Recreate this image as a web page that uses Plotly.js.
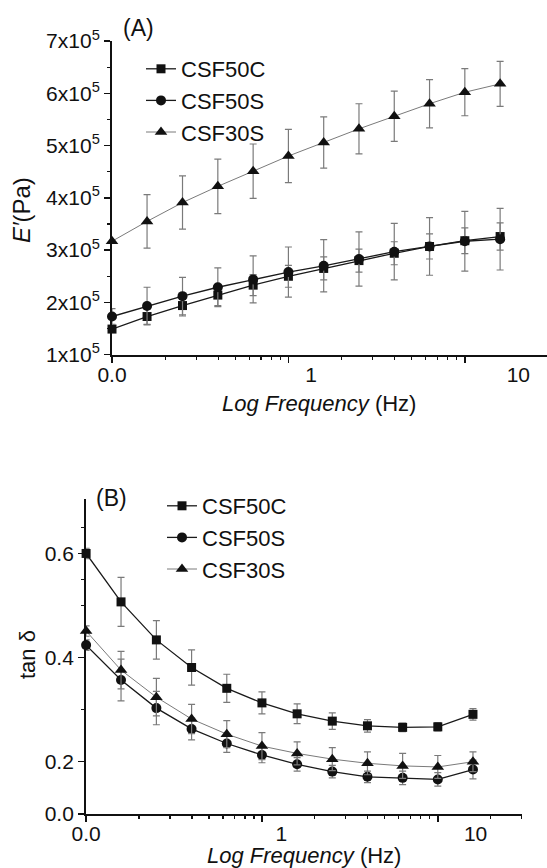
<!DOCTYPE html>
<html><head><meta charset="utf-8">
<script src="https://cdn.plot.ly/plotly-3.0.1.min.js"></script>
<style>html,body{margin:0;padding:0;overflow:hidden;background:#fff}</style>
</head><body><div id="chart" style="width:549px;height:868px"></div>
<script>
// Frequencies (Hz), shared by both panels
const freq = [0.1, 0.158, 0.251, 0.398, 0.631, 1, 1.585, 2.512, 3.981, 6.31, 10, 15.85];
const names = ['CSF50C', 'CSF50S', 'CSF30S'];

// Panel A: storage modulus E' (Pa)
const eCSF50C = [1.49e5, 1.73e5, 1.94e5, 2.14e5, 2.33e5, 2.50e5, 2.65e5, 2.80e5, 2.94e5, 3.07e5, 3.18e5, 3.26e5];
const eCSF50C_err = [0.05e5, 0.15e5, 0.2e5, 0.2e5, 0.2e5, 0.21e5, 0.22e5, 0.22e5, 0.22e5, 0.24e5, 0.245e5, 0.26e5];
const eCSF50S = [1.73e5, 1.93e5, 2.12e5, 2.29e5, 2.44e5, 2.58e5, 2.70e5, 2.83e5, 2.97e5, 3.07e5, 3.17e5, 3.21e5];
const eCSF50S_err = [0.15e5, 0.36e5, 0.36e5, 0.37e5, 0.45e5, 0.48e5, 0.50e5, 0.52e5, 0.54e5, 0.55e5, 0.57e5, 0.59e5];
const eCSF30S = [3.17e5, 3.55e5, 3.91e5, 4.22e5, 4.51e5, 4.80e5, 5.06e5, 5.32e5, 5.56e5, 5.80e5, 6.02e5, 6.18e5];
const eCSF30S_err = [0.02e5, 0.51e5, 0.51e5, 0.52e5, 0.52e5, 0.51e5, 0.49e5, 0.48e5, 0.48e5, 0.46e5, 0.45e5, 0.43e5];

// Panel B: tan delta
const tCSF50C = [0.600, 0.507, 0.434, 0.381, 0.341, 0.313, 0.292, 0.278, 0.269, 0.266, 0.267, 0.291];
const tCSF50C_err = [0.01, 0.047, 0.037, 0.034, 0.027, 0.021, 0.019, 0.016, 0.012, 0.008, 0.008, 0.011];
const tCSF50S = [0.424, 0.357, 0.303, 0.263, 0.235, 0.213, 0.195, 0.181, 0.171, 0.169, 0.166, 0.185];
const tCSF50S_err = [0.01, 0.04, 0.032, 0.021, 0.017, 0.015, 0.013, 0.012, 0.011, 0.013, 0.013, 0.018];
const tCSF30S = [0.451, 0.376, 0.324, 0.282, 0.253, 0.230, 0.216, 0.205, 0.197, 0.192, 0.190, 0.200];
const tCSF30S_err = [0.01, 0.036, 0.036, 0.028, 0.026, 0.026, 0.022, 0.022, 0.022, 0.024, 0.022, 0.019];

// Tick labels
const yTickValsA = [1e5, 2e5, 3e5, 4e5, 5e5, 6e5, 7e5];
const yTickTextA = ['1x10<sup>5</sup>', '2x10<sup>5</sup>', '3x10<sup>5</sup>', '4x10<sup>5</sup>', '5x10<sup>5</sup>', '6x10<sup>5</sup>', '7x10<sup>5</sup>'];
const yTickValsB = [0.1, 0.2, 0.4, 0.6];
const yTickTextB = ['0.0', '0.2', '0.4', '0.6'];
const xTickTextAll = ['0.0', '1', '10'];
const xLabelPosA = [0.1, 1.345, 20.1];
const xLabelPosB = [0.1, 1.29, 16.4];

const FONT = 'Liberation Sans, Arial, sans-serif';
const styles = [
  {symbol: 'square', size: 9, line: {color: '#1a1a1a', width: 1.3}},
  {symbol: 'circle', size: 10, line: {color: '#1a1a1a', width: 1.3}},
  {symbol: 'triangle-up', size: 11, line: {color: '#7a7a7a', width: 1}}
];
const errStyle = (arr) => ({type: 'data', array: arr, visible: true, color: '#7a7a7a', thickness: 1.2, width: 3.5});

function mk(y, err, i, xa, ya, leg) {
  return {
    x: freq, y: y, name: names[i], type: 'scatter', mode: 'lines+markers',
    xaxis: xa, yaxis: ya, legend: leg, cliponaxis: false,
    line: styles[i].line,
    marker: {symbol: styles[i].symbol, size: styles[i].size, color: '#111'},
    error_y: errStyle(err)
  };
}

const data = [
  mk(eCSF50C, eCSF50C_err, 0, 'x', 'y', 'legend'),
  mk(eCSF50S, eCSF50S_err, 1, 'x', 'y', 'legend'),
  mk(eCSF30S, eCSF30S_err, 2, 'x', 'y', 'legend'),
  mk(tCSF50C, tCSF50C_err, 0, 'x2', 'y2', 'legend2'),
  mk(tCSF50S, tCSF50S_err, 1, 'x2', 'y2', 'legend2'),
  mk(tCSF30S, tCSF30S_err, 2, 'x2', 'y2', 'legend2'),
  {x: [], y: [], xaxis: 'x3', yaxis: 'y', showlegend: false, type: 'scatter'},
  {x: [], y: [], xaxis: 'x4', yaxis: 'y2', showlegend: false, type: 'scatter'}
];

const W = 549, H = 868;
const xr = [-1, Math.log10(30)];
const minorX = [0.2, 0.3, 0.4, 0.5, 0.6, 0.7, 0.8, 0.9, 2, 3, 4, 5, 6, 7, 8, 9];
const minorXB = minorX.concat([20, 30]);

const baseAx = {
  showline: true, linecolor: '#111', linewidth: 2, ticks: 'outside', ticklen: 6,
  tickwidth: 1.5, tickcolor: '#111', showgrid: false, zeroline: false, automargin: false,
  tickfont: {family: FONT, size: 21, color: '#111'}, fixedrange: true
};
const labAx = {
  showline: false, ticks: 'outside', ticklen: 1, tickcolor: 'rgba(0,0,0,0)', showgrid: false,
  zeroline: false, automargin: false, type: 'log', range: xr,
  tickfont: {family: FONT, size: 21, color: '#111'}
};

const domAx = [112 / W, 1];
const domBx = [86.1 / W, 521.7 / W];
const domAy = [1 - 354.7 / H, 1 - 41 / H];
const domBy = [1 - 813.8 / H, 1 - 499.3 / H];

const layout = {
  width: W, height: H, margin: {l: 0, r: 0, t: 0, b: 0},
  paper_bgcolor: '#fff', plot_bgcolor: 'rgba(0,0,0,0)',
  font: {family: FONT, color: '#111'},
  xaxis: Object.assign({}, baseAx, {type: 'log', range: xr, domain: domAx, anchor: 'y',
    tickvals: [0.1, 1, 10], showticklabels: false,
    minor: {ticks: 'outside', ticklen: 3, tickwidth: 1.2, tickcolor: '#111', tickmode: 'array', tickvals: minorX, showgrid: false}}),
  xaxis3: Object.assign({}, labAx, {overlaying: 'x', anchor: 'y', domain: domAx,
    tickmode: 'array', tickvals: xLabelPosA, ticktext: xTickTextAll}),
  yaxis: Object.assign({}, baseAx, {range: [1e5, 7e5], domain: domAy, anchor: 'x',
    tickmode: 'array', tickvals: yTickValsA, ticktext: yTickTextA,
    minor: {ticks: 'outside', ticklen: 3, tickwidth: 1.2, tickcolor: '#111', tickmode: 'array',
      tickvals: [1.5e5, 2.5e5, 3.5e5, 4.5e5, 5.5e5, 6.5e5], showgrid: false}}),
  xaxis2: Object.assign({}, baseAx, {type: 'log', range: xr, domain: domBx, anchor: 'y2',
    tickvals: [0.1, 1, 10], showticklabels: false,
    minor: {ticks: 'outside', ticklen: 3, tickwidth: 1.2, tickcolor: '#111', tickmode: 'array', tickvals: minorXB, showgrid: false}}),
  xaxis4: Object.assign({}, labAx, {overlaying: 'x2', anchor: 'y2', domain: domBx,
    tickmode: 'array', tickvals: xLabelPosB, ticktext: xTickTextAll}),
  yaxis2: Object.assign({}, baseAx, {range: [0.1, 0.704], domain: domBy, anchor: 'x2',
    tickmode: 'array', tickvals: yTickValsB, ticktext: yTickTextB,
    minor: {ticks: 'outside', ticklen: 3, tickwidth: 1.2, tickcolor: '#111', tickmode: 'array',
      tickvals: [0.3, 0.5, 0.55, 0.65], showgrid: false}}),
  legend: {x: 141 / W, y: 1 - 48 / H, xanchor: 'left', yanchor: 'top', bgcolor: 'rgba(0,0,0,0)',
    font: {family: FONT, size: 22, color: '#111'}, tracegroupgap: 0},
  legend2: {x: 162 / W, y: 1 - 485 / H, xanchor: 'left', yanchor: 'top', bgcolor: 'rgba(0,0,0,0)',
    font: {family: FONT, size: 22, color: '#111'}, tracegroupgap: 0},
  annotations: [
    {text: '(A)', xref: 'paper', yref: 'paper', x: 121 / W, y: 1 - 28 / H, xanchor: 'left', yanchor: 'middle', showarrow: false, font: {family: FONT, size: 23}},
    {text: '(B)', xref: 'paper', yref: 'paper', x: 94 / W, y: 1 - 498 / H, xanchor: 'left', yanchor: 'middle', showarrow: false, font: {family: FONT, size: 23}},
    {text: '<i>Log Frequency</i> (Hz)', xref: 'paper', yref: 'paper', x: 319 / W, y: 1 - 403 / H, xanchor: 'center', yanchor: 'middle', showarrow: false, font: {family: FONT, size: 22}},
    {text: '<i>Log Frequency</i> (Hz)', xref: 'paper', yref: 'paper', x: 304 / W, y: 1 - 855 / H, xanchor: 'center', yanchor: 'middle', showarrow: false, font: {family: FONT, size: 22}},
    {text: '<i>E′</i>(Pa)', xref: 'paper', yref: 'paper', x: 21 / W, y: 1 - 210 / H, xanchor: 'center', yanchor: 'middle', textangle: -90, showarrow: false, font: {family: FONT, size: 24}},
    {text: 'tan δ', xref: 'paper', yref: 'paper', x: 27 / W, y: 1 - 655 / H, xanchor: 'center', yanchor: 'middle', textangle: -90, showarrow: false, font: {family: FONT, size: 22}}
  ]
};

Plotly.newPlot('chart', data, layout, {staticPlot: true, displayModeBar: false});
</script>
</body></html>
